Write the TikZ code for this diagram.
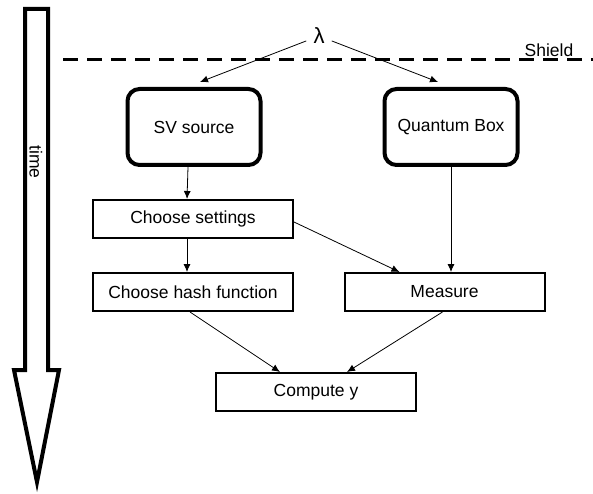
\documentclass[tikz,border=0pt]{standalone}
\usepackage{fontspec}
\setmainfont{Liberation Sans}
\usetikzlibrary{arrows.meta}

\begin{document}
\begin{tikzpicture}
        [x=1pt,y=-1pt,>={Latex[length=8pt,width=7pt]},
         every node/.style={font=\fontsize{17.5}{21}\selectfont},
         qbox/.style={draw,line width=4pt,rounded corners=12pt,fill=white,minimum width=133pt,minimum height=76pt},
         sbox/.style={draw,line width=2pt,fill=white,minimum width=200pt,minimum height=38pt},
         flow/.style={->,line width=0.8pt}]
        \useasboundingbox (0,0) rectangle (593,494);

        % time arrow
        \draw[line width=4pt] (25,9) -- (48,9) -- (48,370) -- (59,370) -- (37,482) -- (14,370) -- (25,370) -- cycle;
        \node[rotate=-90] (time) at (36,162) {time};

        % shield
        \draw[line width=3pt,dash pattern=on 15pt off 9pt] (63,60) -- (593,60);
        \node[anchor=base] (shield) at (549,57) {Shield};

        \node[inner sep=7pt,font=\fontsize{22}{24}\selectfont] (lam) at (319,36) {λ};
        \node[qbox] (sv) at (194,127) {SV source};
        \node[qbox] (qb) at (451,127) {Quantum Box};
        \node[sbox] (set) at (193,219) {Choose settings};
        \node[sbox] (hash) at (193,292) {Choose hash function};
        \node[sbox] (meas) at (444.5,292) {Measure};
        \node[sbox] (cy) at (316,392) {Compute y};

        \draw[flow] (lam) -- ([xshift=6pt,yshift=5pt]sv.north);
        \draw[flow] (lam) -- ([xshift=-13pt,yshift=5pt]qb.north);
        \draw[flow] ([xshift=-6pt]sv.south) -- ([xshift=-6pt]set.north);
        \draw[flow] ([xshift=-6pt]set.south) -- ([xshift=-6pt]hash.north);
        \draw[flow] ([yshift=-3pt]set.east) -- ([xshift=-45pt]meas.north);
        \draw[flow] (qb.south) -- (qb.south |- meas.north);
        \draw[flow] ([xshift=-3pt]hash.south) -- ([xshift=-36pt]cy.north);
        \draw[flow] ([xshift=-2pt]meas.south) -- ([xshift=31pt]cy.north);

      \end{tikzpicture}
\end{document}
